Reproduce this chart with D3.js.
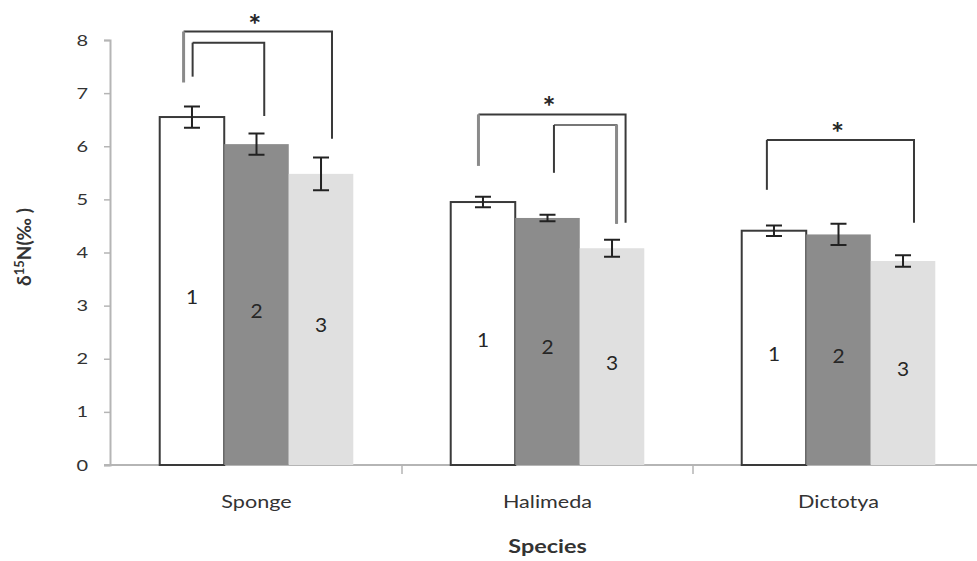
<!DOCTYPE html>
<html>
<head>
<meta charset="utf-8">
<script src="https://cdn.jsdelivr.net/npm/d3@7"></script>
<style>
  html, body { margin: 0; padding: 0; background: #fff; }
  svg { display: block; }
  text { font-family: Lato, "Open Sans", sans-serif; }
</style>
</head>
<body>
<svg id="chart" width="977" height="561"></svg>
<script>
// δ15N by species and treatment (means ± error)
const species = ["Sponge", "Halimeda", "Dictotya"];
const treatments = ["1", "2", "3"];
const means = [
  [6.55, 6.04, 5.48],
  [4.95, 4.65, 4.08],
  [4.41, 4.34, 3.84]
];
const errors = [
  [0.20, 0.20, 0.31],
  [0.10, 0.06, 0.16],
  [0.10, 0.20, 0.11]
];
const yTicks = [0, 1, 2, 3, 4, 5, 6, 7, 8];

// significance brackets: group, start bar, end bar, bar-relative x offset,
// bracket top value and the values where each leg stops
const brackets = [
  { g: 0, a: 0, af: 0.37, b: 2, bf: 0.67, top: 8.16, aEnd: 7.20, bEnd: 6.14, star: true,  softLeft: true },
  { g: 0, a: 0, af: 0.51, b: 1, bf: 0.62, top: 7.95, aEnd: 7.31, bEnd: 6.57, star: false },
  { g: 1, a: 0, af: 0.43, b: 2, bf: 0.71, top: 6.60, aEnd: 5.63, bEnd: 4.56, star: true,  softLeft: true },
  { g: 1, a: 1, af: 0.60, b: 2, bf: 0.57, top: 6.40, aEnd: 5.50, bEnd: 4.54, star: false, softRight: true },
  { g: 2, a: 0, af: 0.39, b: 2, bf: 0.67, top: 6.12, aEnd: 5.18, bEnd: 4.56, star: true }
];

const fills = ["#ffffff", "#8c8c8c", "#e0e0e0"];

const svg = d3.select("#chart");

// text is drawn a little wide; this places a label at (x,y) with a horizontal stretch
function label(parent, x, y, sx, txt, size, weight) {
  return parent.append("text")
    .attr("transform", `translate(${x},${y}) scale(${sx},1)`)
    .attr("text-anchor", "middle")
    .attr("fill", "#262626")
    .style("font-size", size + "px")
    .style("font-weight", weight || "normal")
    .text(txt);
}

const x0 = d3.scaleBand().domain(species).range([111, 984]).paddingInner(0).paddingOuter(0);
const x1 = d3.scaleBand().domain(treatments).range([0, x0.bandwidth()]).paddingInner(0).paddingOuter(0.755);
const y = d3.scaleLinear().domain([0, 8]).range([465, 40]);

// y axis
const tickStretch = 1.25;
const yAxis = svg.append("g").attr("transform", "translate(110,0)")
  .call(d3.axisLeft(y).tickValues(yTicks).tickSize(6).tickPadding(16).tickFormat(d3.format("d")));
yAxis.select(".domain").attr("stroke", "#b5b5b5").attr("stroke-width", 2);
yAxis.selectAll(".tick line").attr("stroke", "#b5b5b5").attr("stroke-width", 1.5);
yAxis.selectAll(".tick text")
  .attr("fill", "#333")
  .attr("x", -22 / tickStretch)
  .attr("transform", `scale(${tickStretch},1)`)
  .style("font-size", "16px").style("font-family", "Lato, sans-serif");

// x axis
const xAxis = svg.append("g").attr("transform", "translate(0,465)")
  .call(d3.axisBottom(x0).tickSize(0).tickPadding(30));
xAxis.select(".domain").attr("stroke", "#b5b5b5").attr("stroke-width", 2)
  .attr("d", "M104,0H984");
xAxis.selectAll(".tick text")
  .attr("fill", "#333")
  .attr("transform", "scale(1.2,1)")
  .style("font-size", "18px").style("font-family", "Lato, sans-serif");
// category separators
svg.append("g").selectAll("line")
  .data(species.slice(1))
  .join("line")
  .attr("x1", d => x0(d)).attr("x2", d => x0(d))
  .attr("y1", 465).attr("y2", 474)
  .attr("stroke", "#b5b5b5").attr("stroke-width", 1.5);

// bars
const groups = svg.append("g").selectAll("g")
  .data(species)
  .join("g")
  .attr("transform", d => `translate(${x0(d)},0)`);

groups.each(function (sp, gi) {
  const g = d3.select(this);
  treatments.forEach((t, ti) => {
    const v = means[gi][ti];
    const e = errors[gi][ti];
    const bx = x1(t), bw = x1.bandwidth();
    g.append("rect")
      .attr("x", bx).attr("y", y(v))
      .attr("width", bw).attr("height", y(0) - y(v))
      .attr("fill", fills[ti])
      .attr("stroke", ti === 0 ? "#3a3a3a" : "none")
      .attr("stroke-width", ti === 0 ? 2 : 0);
    // error bar
    const cx = bx + bw / 2;
    g.append("path")
      .attr("d", `M${cx - 8},${y(v + e)}H${cx + 8}M${cx},${y(v + e)}V${y(v - e)}M${cx - 8},${y(v - e)}H${cx + 8}`)
      .attr("fill", "none").attr("stroke", "#222").attr("stroke-width", 2);
    // treatment label
    label(g, cx, y(v / 2) + 13, 1.1, t, 19);
  });
});

// significance brackets
const bx = (g, i, f) => x0(species[g]) + x1(treatments[i]) + f * x1.bandwidth();
const bg = svg.append("g").attr("fill", "none");
brackets.forEach(b => {
  const xa = bx(b.g, b.a, b.af), xb = bx(b.g, b.b, b.bf);
  bg.append("path")
    .attr("d", `M${xa},${y(b.top)}H${xb}V${y(b.bEnd)}`)
    .attr("stroke", b.softRight ? "#777" : "#3a3a3a").attr("stroke-width", 2);
  bg.append("path")
    .attr("d", `M${xa},${y(b.top)}V${y(b.aEnd)}`)
    .attr("stroke", b.softLeft ? "#8a8a8a" : "#3a3a3a")
    .attr("stroke-width", b.softLeft ? 3 : 2);
  if (b.softRight) {
    bg.append("path")
      .attr("d", `M${xb},${y(b.top)}V${y(b.bEnd)}`)
      .attr("stroke", "#8a8a8a").attr("stroke-width", 3);
  }
  if (b.star) {
    label(svg, (xa + xb) / 2 - 3, y(b.top) + 3, 1.1, "*", 28, "bold");
  }
});

// axis titles
const yTitle = svg.append("text")
  .attr("transform", "translate(31,247) rotate(-90)")
  .attr("text-anchor", "middle")
  .attr("fill", "#333")
  .style("font-size", "19px").style("font-weight", "bold");
yTitle.append("tspan").text("δ");
yTitle.append("tspan").attr("dy", -7).style("font-size", "13px").text("15");
yTitle.append("tspan").attr("dy", 7).text("N(‰ )");

label(svg, x0("Halimeda") + x0.bandwidth() / 2, 553, 1.3, "Species", 18, "bold").attr("fill", "#333");
</script>
</body>
</html>
